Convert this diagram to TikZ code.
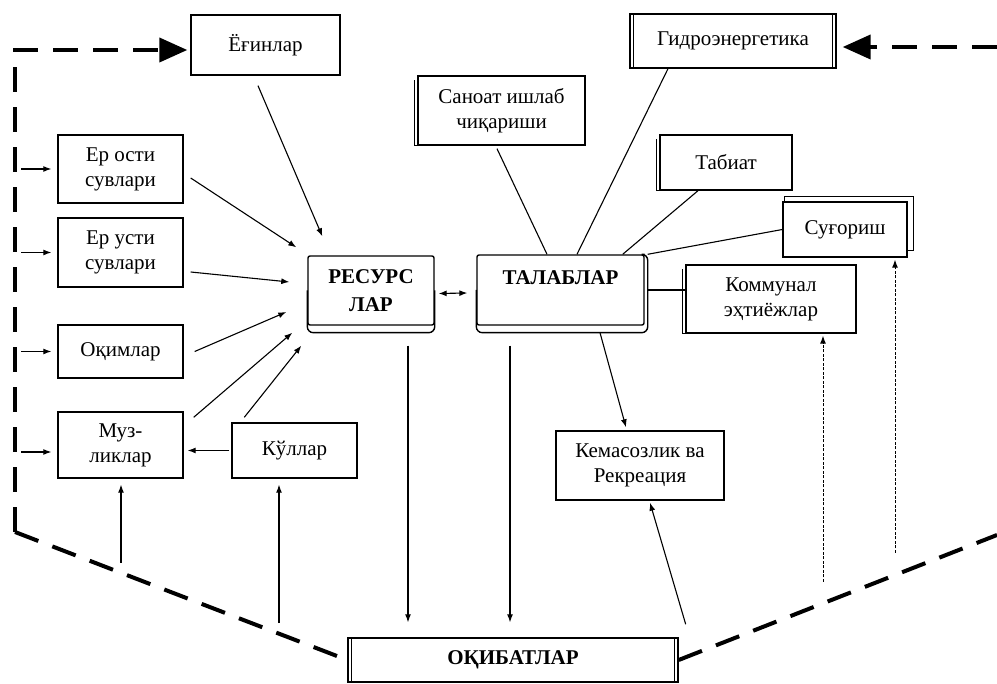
\documentclass[tikz,border=0pt]{standalone}
\usepackage{fontspec}
\setmainfont{Liberation Serif}
\usetikzlibrary{arrows.meta,calc}

\tikzset{
  box/.style={draw, line width=1.4pt, align=center, inner sep=0pt,
    font=\fontsize{21}{25}\selectfont},
  bigbox/.style={box, rounded corners=2pt, font=\fontsize{21}{28}\selectfont\bfseries},
  arr/.style={line width=1.1pt, ->},
  link/.style={line width=1.1pt},
  dotarr/.style={line width=1pt, dash pattern=on 3pt off 1.5pt, ->},
  frame/.style={line width=4pt, dash pattern=on 25pt off 15pt},
}

\begin{document}
\begin{tikzpicture}[x=1pt,y=-1pt,>={Latex[length=8pt,width=6pt]}]
\useasboundingbox (0,0) rectangle (997,684);

% top
\node[box, minimum width=149pt, minimum height=60pt] (egin) at (265.5,45) {Ёғинлар};
\node[box, minimum width=206pt, minimum height=54pt] (gid) at (733,41) {Гидроэнергетика};
\node[box, minimum width=167pt, minimum height=69pt] (san) at (501.5,110.5) {Саноат ишлаб\\чиқариши};
\node[box, minimum width=132pt, minimum height=55pt] (tab) at (726,162.5) {Табиат};
\node[box, minimum width=124pt, minimum height=55pt] (sug) at (845,229.5) {Суғориш};
\node[box, minimum width=170pt, minimum height=68pt] (kom) at (771,299) {Коммунал\\эҳтиёжлар};

% centre
\node[bigbox, minimum width=126pt, minimum height=69pt] (res) at (371,290.5) {РЕСУРС\\ЛАР};
\node[bigbox, minimum width=167pt, text height=25pt, text depth=35pt, inner ysep=5pt] (tal) at (560.5,290) {ТАЛАБЛАР};

% left
\node[box, minimum width=125pt, minimum height=68pt] (eros) at (120.5,169) {Ер ости\\сувлари};
\node[box, minimum width=125pt, minimum height=69pt] (erus) at (120.5,252.5) {Ер усти\\сувлари};
\node[box, minimum width=125pt, minimum height=53pt] (oqim) at (120.5,351.5) {Оқимлар};
\node[box, minimum width=125pt, minimum height=66pt] (muz) at (120.5,445) {Муз-\\ликлар};
\node[box, minimum width=125pt, minimum height=55pt] (kul) at (294.5,450.5) {Кўллар};

% bottom
\node[box, minimum width=168pt, minimum height=69pt] (kem) at (640,465.5) {Кемасозлик ва\\Рекреация};
\node[bigbox, rounded corners=0pt, minimum width=330pt, minimum height=44pt] (oqib) at (513,660) {ОҚИБАТЛАР};

% extra edges of boxes
\draw[link] ([xshift=4pt]gid.north west) -- ([xshift=4pt]gid.south west);
\draw[link] ([xshift=-4pt]gid.north east) -- ([xshift=-4pt]gid.south east);
\draw[link] ([xshift=4pt]oqib.north west) -- ([xshift=4pt]oqib.south west);
\draw[link] ([xshift=-4pt]oqib.north east) -- ([xshift=-4pt]oqib.south east);
\draw[link] ([xshift=-3pt,yshift=-5pt]san.north west) |- (san.south west);
\draw[link] ([xshift=-3pt,yshift=-5pt]tab.north west) |- (tab.south west);
\draw[link] ([xshift=-3pt,yshift=-5pt]kom.north west) |- (kom.south west);
\draw[link] ([xshift=2pt]sug.north west) |- ([xshift=6pt,yshift=5pt]sug.north east) |- ([yshift=7pt]sug.south east);
\draw[line width=1.4pt, rounded corners=6pt] (res.west) |- ([yshift=-7pt]res.south) -| (res.east);
\draw[line width=1.4pt, rounded corners=6pt] (tal.west) |- ([xshift=3pt,yshift=-7pt]tal.south east) |- (tal.north east);

% dashed frame
\coordinate (ftl) at (15,50);
\coordinate (fbl) at (15,532);
\coordinate (ftr) at (997,47);
\coordinate (fbr) at (997,535);
\draw[frame, -{Triangle[length=28pt,width=24pt]}] (fbl) -- (ftl) -- ([xshift=-3pt]ftl -| egin.west);
\draw[frame] (fbl) -- (oqib.west);
\draw[frame] (oqib.east) -- (fbr);
\draw[frame, -{Triangle[length=28pt,width=24pt]}] (ftr) -- ([xshift=6pt]ftr -| gid.east);

% arrows from the frame
\coordinate (fl) at (21,0);
\draw[arr] (fl |- eros.west) -- ([xshift=-6pt]eros.west);
\draw[arr] (fl |- erus.west) -- ([xshift=-6pt]erus.west);
\draw[arr] (fl |- oqim.west) -- ([xshift=-6pt]oqim.west);
\draw[arr] ([yshift=-7pt]fl |- muz.west) -- ([xshift=-6pt,yshift=-7pt]muz.west);

% into resources
\draw[arr] ([xshift=-7.5pt,yshift=-10pt]egin.south) -- ([xshift=15pt,yshift=19pt]res.north west);
\draw[arr] ([xshift=7pt,yshift=-9pt]eros.east) -- ([xshift=-11pt,yshift=8pt]res.north west);
\draw[arr] ([xshift=7pt,yshift=-19.5pt]erus.east) -- ([xshift=-18pt,yshift=8.5pt]res.west);
\draw[arr] ([xshift=11pt]oqim.east) -- ([xshift=-21pt,yshift=-21.5pt]res.west);
\draw[arr] ([xshift=10pt,yshift=-6pt]muz.north east) -- ([xshift=-15pt,yshift=-7pt]res.south west);
\draw[arr] ([xshift=13pt,yshift=5pt]kul.north west) -- ([xshift=-6pt,yshift=-20pt]res.south west);
\draw[arr] ([xshift=-2pt]kul.west) -- ([xshift=4pt]kul.west -| muz.east);
\coordinate (mb) at (121,563);
\coordinate (kb) at (279,623);
\draw[arr] (mb) -- ([yshift=-6pt]mb |- muz.south);
\draw[arr] (kb) -- ([yshift=-6pt]kb |- kul.south);
\draw[arr, <->] ([xshift=4pt,yshift=-3pt]res.east) -- ([xshift=-9pt,yshift=-3pt]tal.west);

% consequences
\draw[arr] ([xshift=37pt,yshift=-20pt]res.south) -- ([xshift=37pt,yshift=15pt]res.south |- oqib.north);
\draw[arr] ([xshift=-50.5pt,yshift=-20pt]tal.south) -- ([xshift=-50.5pt,yshift=15pt]tal.south |- oqib.north);
\draw[arr] ([xshift=39.5pt,yshift=-7pt]tal.south) -- ([xshift=-14pt,yshift=3pt]kem.north);
\draw[arr] ([xshift=7pt,yshift=13pt]oqib.north east) -- ([xshift=10pt,yshift=-2pt]kem.south);
\coordinate (k1) at (823,582);
\coordinate (k2) at (895,553);
\draw[dotarr] (k1) -- ([yshift=-2pt]k1 |- kom.south);
\draw[dotarr] (k2) -- ([yshift=-2pt]k2 |- sug.south);

% demands
\draw[link] ([xshift=-4.5pt,yshift=-3pt]san.south) -- ([xshift=-13.5pt]tal.north);
\draw[link] ([xshift=-65pt]gid.south) -- ([xshift=16.5pt]tal.north);
\draw[link] ([xshift=-28pt]tab.south) -- ([xshift=-22pt]tal.north east);
\draw[link] (sug.west) -- ([xshift=3pt]tal.north east);
\draw[link] ([xshift=3pt]tal.east) -- (tal.east -| kom.west);
\end{tikzpicture}
\end{document}
